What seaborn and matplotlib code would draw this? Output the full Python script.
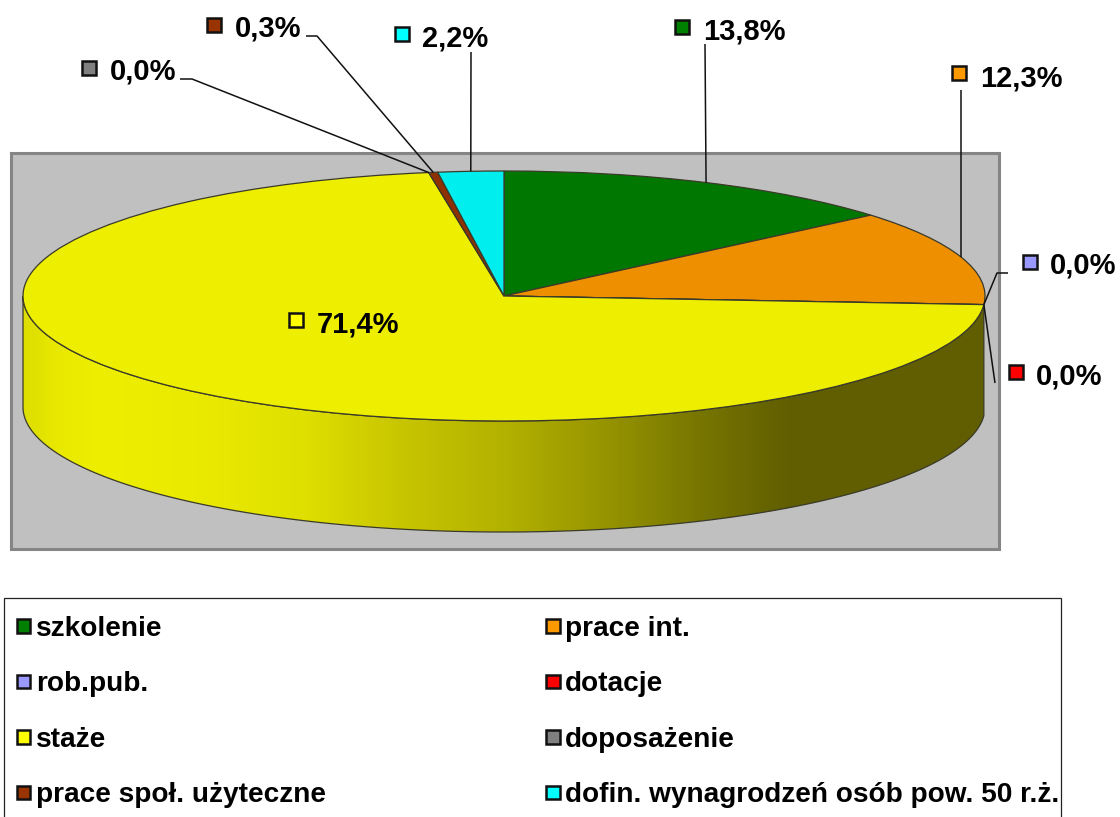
import numpy as np
import matplotlib
matplotlib.use("Agg")
import matplotlib.pyplot as plt
from matplotlib.colors import LinearSegmentedColormap, to_rgb
from matplotlib.patches import Patch, Polygon, Rectangle
import seaborn as sns

# ---- data ----
categories = ["szkolenie", "prace int.", "rob.pub.", "dotacje", "staże",
              "doposażenie", "prace społ. użyteczne", "dofin. wynagrodzeń osób pow. 50 r.ż."]
shares = [13.8, 12.3, 0.0, 0.0, 71.4, 0.0, 0.3, 2.2]
share_labels = ["13,8%", "12,3%", "0,0%", "0,0%", "71,4%", "0,0%", "0,3%", "2,2%"]
base_colors = ["#008000", "#FF9900", "#9999FF", "#FF0000", "#FFFF00", "#808080", "#993300", "#00FFFF"]

sns.set_theme(style="white")
plt.rcParams["font.family"] = ["Liberation Sans", "DejaVu Sans"]
plt.rcParams["font.weight"] = "bold"

W, H = 1120, 817
CX, CY, RX, RY, DEPTH = 504, 296, 481, 125, 111
EDGE = "#3a3a2a"
palette = sns.color_palette(base_colors)
top_colors = [tuple(c * 0.933 for c in to_rgb(col)) for col in palette]

fig = plt.figure(figsize=(W / 100, H / 100), dpi=100, facecolor="white")


def pixel_axes(left, top, right, bottom, z):
    a = fig.add_axes([left / W, 1 - bottom / H, (right - left) / W, (bottom - top) / H], zorder=z)
    a.patch.set_alpha(0)
    a.set_axis_off()
    return a


bg = pixel_axes(0, 0, W, H, 1)
bg.add_patch(Rectangle((11, 153), 988, 396, fc="#C0C0C0", ec="#858585", lw=2.2))

# ---- extruded side: visible arc ends where the first lower wedge starts ----
end_angle = np.deg2rad(90 - 360 * sum(shares[:2]) / 100)
theta = np.linspace(-np.pi, end_angle, 400)
ex, ey = CX + RX * np.cos(theta), CY - RY * np.sin(theta)
side_xy = np.vstack([np.c_[ex, ey], np.c_[ex[::-1], ey[::-1] + DEPTH]])
side = Polygon(side_xy, closed=True, fc="none", ec=EDGE, lw=0.9, zorder=3)
bg.add_patch(side)
stops = [(0.0, "#DEDE00"), (0.04, "#EAEA00"), (0.08, "#EEEE00"), (0.18, "#EAEA00"), (0.288, "#E0E000"),
         (0.392, "#C8C600"), (0.496, "#B4B200"), (0.60, "#989600"), (0.704, "#787600"),
         (0.798, "#605E00"), (1.0, "#605E00")]
cmap = LinearSegmentedColormap.from_list("side", stops)
img = bg.imshow(np.linspace(0, 1, 962)[None, :], cmap=cmap, vmin=0, vmax=1, aspect="auto",
                extent=(CX - RX, CX + RX, CY + RY + DEPTH, CY - RY), zorder=2)
img.set_clip_path(side)
bg.set_xlim(0, W)
bg.set_ylim(H, 0)

# ---- top of the pie ----
pie_ax = pixel_axes(CX - RX, CY - RY, CX + RX, CY + RY, 2)
pie_ax.pie(shares, colors=top_colors, startangle=90, counterclock=False, radius=1,
           wedgeprops=dict(edgecolor=EDGE, linewidth=0.9))
pie_ax.set_aspect("auto")
pie_ax.set_xlim(-1, 1)
pie_ax.set_ylim(-1, 1)

# ---- labels and leaders ----
ov = pixel_axes(0, 0, W, H, 3)
ov.set_xlim(0, W)
ov.set_ylim(H, 0)
cum = np.cumsum(shares) - np.array(shares) / 2
anchor_x = CX + RX * np.sin(2 * np.pi * cum / 100)
anchor_y = CY - RY * np.cos(2 * np.pi * cum / 100)

label_layout = [(682, 27, 703, 31), (959, 73, 980, 78), (1030, 262, 1050, 265), (1016, 372, 1036, 376),
                (296, 320, 317, 324), (89, 68, 110, 71), (214, 25, 235, 28), (402, 34, 422, 38)]
leader_layout = [[(705, 44)], [(961, 90)], [(1008, 273), (997, 273)], [(995, 383)],
                 None, [(180, 79), (192, 79)], [(306, 36), (317, 36)], [(471, 52)]]

for i, (mx, my, tx, ty) in enumerate(label_layout):
    ov.add_patch(Rectangle((mx - 7, my - 7), 14, 14, fc=palette[i], ec="#111111", lw=1.8, zorder=5))
    ov.text(tx, ty, share_labels[i], fontsize=21, fontweight="bold", color="#000000", va="center", ha="left")
    if leader_layout[i] is not None:
        xs = [p[0] for p in leader_layout[i]] + [anchor_x[i]]
        ys = [p[1] for p in leader_layout[i]] + [anchor_y[i]]
        ov.plot(xs, ys, color="#111111", lw=1.1, solid_capstyle="butt")

# ---- legend: frame runs past the bottom of the picture ----
ov.add_patch(Rectangle((4, 598), 1057, 240, fc="white", ec="#222222", lw=0.9, zorder=1))
order = [0, 2, 4, 6, 1, 3, 5, 7]
handles = [Patch(fc=palette[i], ec="#111111", lw=1.8) for i in order]
leg = ov.legend(handles, [categories[i] for i in order], ncol=2, loc="upper left",
                bbox_to_anchor=(17 / W, 1 - 616 / H), bbox_transform=fig.transFigure,
                fontsize=20.2, frameon=False, labelcolor="#000000",
                borderpad=0, borderaxespad=0, labelspacing=1.05, handlelength=0.47, handleheight=0.37,
                handletextpad=0.2, columnspacing=7.86)

fig.savefig("out.png", dpi=100, facecolor="white")
